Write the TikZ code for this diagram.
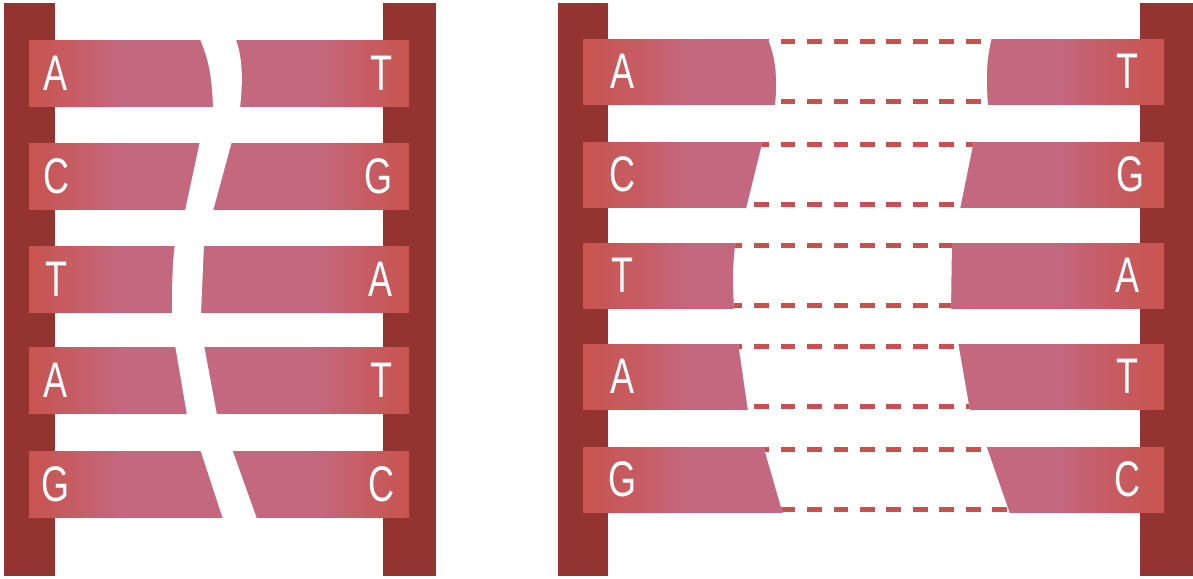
\documentclass[tikz,border=0pt]{standalone}
\usepackage{graphicx}
\usepackage{fontspec}
\setmainfont{Liberation Sans}

\definecolor{backbone}{HTML}{943431}
\definecolor{basered}{HTML}{C8544F}
\definecolor{basepink}{HTML}{C4687F}
\definecolor{bondred}{HTML}{C9504E}

% bar shadings: red ends fading into pink (path spans 25bp..75bp)
\pgfdeclarehorizontalshading{barwide}{100bp}{%
  color(0bp)=(basered); color(25bp)=(basered);
  color(30bp)=(basered!55!basepink); color(34bp)=(basepink);
  color(66bp)=(basepink); color(70bp)=(basered!55!basepink);
  color(75bp)=(basered); color(100bp)=(basered)}
\pgfdeclarehorizontalshading{barnarrow}{100bp}{%
  color(0bp)=(basered); color(25bp)=(basered);
  color(31bp)=(basered!55!basepink); color(37bp)=(basepink);
  color(63bp)=(basepink); color(69bp)=(basered!55!basepink);
  color(75bp)=(basered); color(100bp)=(basered)}

\tikzset{
  rail/.style={fill=backbone},
  letter/.style={text=white, inner sep=0pt, font=\fontsize{25}{25}\selectfont},
  hbond/.style={draw=bondred, line width=2.4pt, dash pattern=on 7.4pt off 5.83pt},
}

% separated pair: top, bottom, outline of the opened gap
\newcommand\opengap[3]{%
  \fill[white] #3;
  \begin{scope}
    \clip #3;
    \draw[hbond] (727.68,#1+2.6) -- (1100,#1+2.6);
    \draw[hbond] (727.68,#2-2.6) -- (1100,#2-2.6);
  \end{scope}
}

\newcommand\ltr[1]{\scalebox{0.72}[1]{#1}}

\begin{document}
\begin{tikzpicture}[x=0.5pt, y=-0.5pt]
  \useasboundingbox (0,0) rectangle (1193,578);

  % ---------- intact double strand ----------
  \fill[rail] (4,3) rectangle (55,576);
  \fill[rail] (383,3) rectangle (436,576);
  \foreach \t in {40,143,246,347,451}
    {\shade[shading=barnarrow] (29,\t) rectangle (409,\t+66);}

  % white twisting split across the pairs
  \fill[white] (199,37) .. controls (207,55) and (212,72) .. (213,108)
     -- (240,108) .. controls (243,80) and (243,58) .. (235,37) -- cycle;
  \fill[white] (200,141) -- (185,211) -- (213,211) -- (232,141) -- cycle;
  \fill[white] (175,244) .. controls (172,265) and (172,290) .. (172,314)
     -- (201,314) -- (204,244) -- cycle;
  \fill[white] (175,345) -- (187,415) -- (217,415) -- (204,345) -- cycle;
  \fill[white] (200,449) -- (223,519) -- (257,519) -- (232,449) -- cycle;

  % ---------- separated double strand ----------
  \fill[rail] (558,3) rectangle (608,576);
  \fill[rail] (1140,3) rectangle (1193,576);
  \foreach \t in {39,142,243,344,447}
    {\shade[shading=barwide] (583,\t) rectangle (1164,\t+65);}

  \opengap{39}{104}{(767,37) .. controls (775,55) and (778,75) .. (775,106)
     -- (988,106) .. controls (986,80) and (986,60) .. (992,37) -- cycle}
  \opengap{142}{207}{(763,140) -- (746,209) -- (960,209) -- (974,140) -- cycle}
  \opengap{243}{308}{(736,241) .. controls (732,260) and (733,290) .. (734,310)
     -- (951,310) -- (952,241) -- cycle}
  \opengap{344}{409}{(738,342) -- (748,411) -- (970,411) -- (958,342) -- cycle}
  \opengap{447}{512}{(763,445) -- (783,514) -- (1010,514) -- (986,445) -- cycle}

  % ---------- base letters ----------
  \node[letter] (la1) at (56,73)  {\ltr{A}};
  \node[letter] (ra1) at (381,73) {\ltr{T}};
  \node[letter] (la2) at (56,176) {\ltr{C}};
  \node[letter] (ra2) at (378,176) {\ltr{G}};
  \node[letter] (la3) at (56,279) {\ltr{T}};
  \node[letter] (ra3) at (381,279) {\ltr{A}};
  \node[letter] (la4) at (56,380) {\ltr{A}};
  \node[letter] (ra4) at (381,380) {\ltr{T}};
  \node[letter] (la5) at (56,484) {\ltr{G}};
  \node[letter] (ra5) at (381,484) {\ltr{C}};

  \node[letter] (lb1) at (622,71.5)  {\ltr{A}};
  \node[letter] (rb1) at (1127,71.5) {\ltr{T}};
  \node[letter] (lb2) at (622,174.5) {\ltr{C}};
  \node[letter] (rb2) at (1130,174.5) {\ltr{G}};
  \node[letter] (lb3) at (622,275.5) {\ltr{T}};
  \node[letter] (rb3) at (1127,275.5) {\ltr{A}};
  \node[letter] (lb4) at (622,376.5) {\ltr{A}};
  \node[letter] (rb4) at (1127,376.5) {\ltr{T}};
  \node[letter] (lb5) at (622,479.5) {\ltr{G}};
  \node[letter] (rb5) at (1127,479.5) {\ltr{C}};
\end{tikzpicture}
\end{document}
